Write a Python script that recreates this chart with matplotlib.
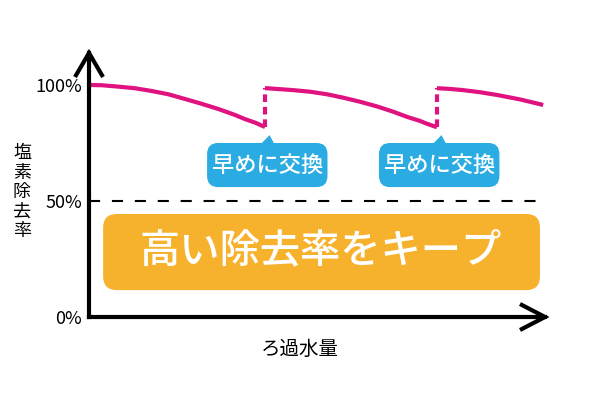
import matplotlib
matplotlib.use('Agg')
import matplotlib.pyplot as plt
from matplotlib.patches import FancyBboxPatch, Polygon

plt.rcParams['font.family'] = ['Noto Sans CJK JP', 'DejaVu Sans']
plt.rcParams['lines.scale_dashes'] = False

# removal rate (%) against filtered volume, one list per filter cartridge
cart1_x = [0, 0.28, 0.64, 1.01, 1.38, 1.74, 2.10, 2.47, 2.83, 3.20, 3.42, 3.64, 3.86]
cart1_y = [100, 99.9, 99.3, 98.6, 97.4, 96.0, 94.0, 91.9, 89.7, 87.1, 85.3, 83.8, 81.9]
cart2_x = [3.86, 3.90, 4.12, 4.47, 4.85, 5.22, 5.58, 5.94, 6.31, 6.67, 6.97, 7.26, 7.41, 7.63]
cart2_y = [98.6, 98.6, 98.3, 97.8, 97.1, 96.0, 94.5, 92.8, 90.8, 88.5, 86.3, 84.5, 83.3, 81.8]
cart3_x = [7.63, 7.66, 7.92, 8.20, 8.57, 8.95, 9.45, 9.96]
cart3_y = [98.6, 98.6, 98.3, 97.8, 96.9, 95.7, 93.8, 91.4]
swap_x = [3.86, 7.63]
swap_low = [81.9, 81.8]
swap_high = [98.6, 98.6]

threshold = 50
y_ticks = [0, 50, 100]
y_ticklabels = ['0%', '50%', '100%']
callout_text = '早めに交換'
keep_text = '高い除去率をキープ'
x_label = 'ろ過水量'
y_label = '塩素除去率'

MAGENTA = '#E0127F'
BLUE = '#2AABE2'
ORANGE = '#F7B22D'

# pixels per data unit, used to size the decorations
XPX = 45.6
YPX = 2.32
x_end = 10.0
y_end = 113.8

fig = plt.figure(figsize=(6, 4), dpi=100)
ax = fig.add_axes([0, 0, 1, 1])
ax.set_xlim(-89 / XPX, 511 / XPX)
ax.set_ylim(-83 / YPX, 317 / YPX)

for side in ['top', 'right']:
    ax.spines[side].set_visible(False)
ax.spines['left'].set_position(('data', 0))
ax.spines['bottom'].set_position(('data', 0))
ax.spines['left'].set_bounds(0, y_end)
ax.spines['bottom'].set_bounds(0, x_end)
for side in ['left', 'bottom']:
    ax.spines[side].set_linewidth(3)
    ax.spines[side].set_capstyle('projecting')
ax.set_xticks([])
ax.set_yticks(y_ticks)
ax.set_yticklabels(y_ticklabels, fontsize=13)
ax.tick_params(axis='y', length=0, pad=5)

# arrow heads
ax.plot([x_end - 25 / XPX, x_end, x_end - 25 / XPX], [13 / YPX, 0, -13 / YPX],
        color='black', lw=3, solid_joinstyle='miter', solid_capstyle='butt', clip_on=False)
ax.plot([-14 / XPX, 0, 14 / XPX], [y_end - 24 / YPX, y_end, y_end - 24 / YPX],
        color='black', lw=3, solid_joinstyle='miter', solid_capstyle='butt', clip_on=False)

# 50% line
ax.plot([0, 9.96], [threshold, threshold], color='black', lw=1.5, dashes=(8, 8.5))

# removal curves
for xs, ys in [(cart1_x, cart1_y), (cart2_x, cart2_y), (cart3_x, cart3_y)]:
    ax.plot(xs, ys, color=MAGENTA, lw=3, solid_capstyle='butt', solid_joinstyle='round')
for x, lo, hi in zip(swap_x, swap_low, swap_high):
    ax.plot([x, x], [lo, hi], color=MAGENTA, lw=3, dashes=(5.5, 3.5))

# callouts
asp = XPX / YPX
for x in swap_x:
    cx = x + 0.05
    box = FancyBboxPatch((cx - 1.32, 56), 2.64, 19,
                         boxstyle='round,pad=0,rounding_size=0.24',
                         mutation_aspect=asp, fc=BLUE, ec='none')
    ax.add_patch(box)
    ax.add_patch(Polygon([(cx - 0.17, 74), (cx + 0.05, 78.4), (cx + 0.17, 74)],
                         closed=True, fc=BLUE, ec='none'))
    ax.text(cx, 65.3, callout_text, color='white', fontsize=16, fontweight='medium',
            ha='center', va='center')

# keep box
keep = FancyBboxPatch((0.31, 11.6), 9.58, 32.8,
                      boxstyle='round,pad=0,rounding_size=0.3',
                      mutation_aspect=asp, fc=ORANGE, ec='none')
ax.add_patch(keep)
ax.text(5.09, 28.4, keep_text, color='white', fontsize=29, fontweight='medium',
        ha='center', va='center')

ax.text(4.63, -14.2, x_label, fontsize=14, ha='center', va='center')
ax.text(-1.47, 53.9, '\n'.join(y_label), fontsize=13, ha='center', va='center',
        linespacing=1.1)

fig.savefig('out.png', dpi=100)
